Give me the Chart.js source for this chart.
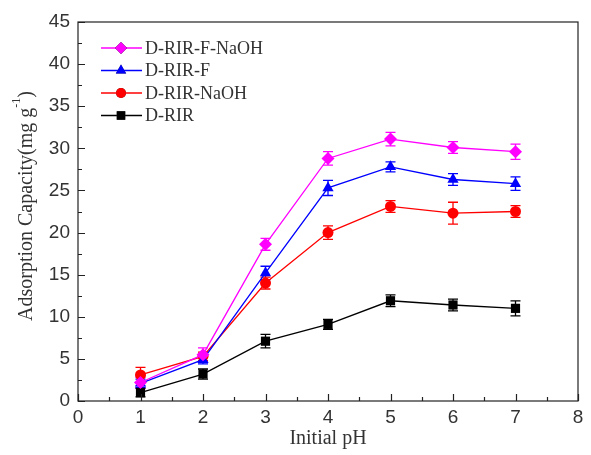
<!DOCTYPE html>
<html>
<head>
<meta charset="utf-8">
<script src="https://cdn.jsdelivr.net/npm/chart.js@4"></script>
<style>
  html,body{margin:0;padding:0;background:#fff;}
  #wrap{width:591px;height:455px;}
</style>
</head>
<body>
<div id="wrap"><canvas id="c"></canvas></div>
<script>
const phValues = [1, 2, 3, 4, 5, 6, 7];

const seriesNames = ["D-RIR-F-NaOH", "D-RIR-F", "D-RIR-NaOH", "D-RIR"];
const seriesColors = ["#ff00ff", "#0000ff", "#ff0000", "#000000"];
const seriesShapes = ["rectRot", "triangle", "circle", "rect"];

const valsFNaOH = [2.2, 5.5, 18.6, 28.8, 31.1, 30.1, 29.6];
const valsF     = [2.1, 4.9, 15.2, 25.3, 27.8, 26.3, 25.8];
const valsNaOH  = [3.1, 5.3, 14.0, 20.0, 23.1, 22.3, 22.5];
const valsRIR   = [1.0, 3.2, 7.1, 9.1, 11.9, 11.4, 11.0];

const errFNaOH = [0.6, 0.8, 0.7, 0.8, 0.8, 0.7, 0.9];
const errF     = [0.5, 0.5, 0.8, 0.9, 0.6, 0.7, 0.8];
const errNaOH  = [0.9, 0.5, 0.7, 0.8, 0.7, 1.3, 0.7];
const errRIR   = [0.5, 0.6, 0.8, 0.6, 0.7, 0.7, 0.9];

const xTicks = [0, 1, 2, 3, 4, 5, 6, 7, 8];
const yTicks = [0, 5, 10, 15, 20, 25, 30, 35, 40, 45];

const allVals = [valsFNaOH, valsF, valsNaOH, valsRIR];
const allErrs = [errFNaOH, errF, errNaOH, errRIR];

const datasets = seriesNames.map((name, i) => ({
    label: name,
    data: phValues.map((x, j) => ({x: x, y: allVals[i][j]})),
    errs: allErrs[i],
    borderColor: seriesColors[i],
    backgroundColor: seriesColors[i],
    borderWidth: 1.3,
    pointStyle: seriesShapes[i],
    pointRadius: [6.5, 6.5, 5.5, 6.5][i],
    pointBorderWidth: 0,
    tension: 0
}));

// error bars, frame, inward ticks, legend, y title
const extras = {
    id: "extras",
    beforeDatasetsDraw(chart) {
        const ctx = chart.ctx, xs = chart.scales.x, ys = chart.scales.y;
        ctx.save();
        chart.data.datasets.forEach(ds => {
            ctx.strokeStyle = ds.borderColor;
            ctx.lineWidth = 1.3;
            ds.data.forEach((p, j) => {
                const px = xs.getPixelForValue(p.x);
                const y1 = ys.getPixelForValue(p.y - ds.errs[j]);
                const y2 = ys.getPixelForValue(p.y + ds.errs[j]);
                ctx.beginPath();
                ctx.moveTo(px, y1); ctx.lineTo(px, y2);
                ctx.moveTo(px - 5, y1); ctx.lineTo(px + 5, y1);
                ctx.moveTo(px - 5, y2); ctx.lineTo(px + 5, y2);
                ctx.stroke();
            });
        });
        ctx.restore();
    },
    afterDraw(chart) {
        const ctx = chart.ctx, a = chart.chartArea, xs = chart.scales.x, ys = chart.scales.y;
        ctx.save();
        ctx.strokeStyle = "#222";
        ctx.lineWidth = 1.2;
        ctx.strokeRect(a.left, a.top, a.right - a.left, a.bottom - a.top);
        ctx.beginPath();
        for (let v = 0; v <= 8; v += 0.5) {
            const px = Math.round(xs.getPixelForValue(v)) + 0.5;
            const len = Number.isInteger(v) ? 7 : 4;
            ctx.moveTo(px, a.bottom); ctx.lineTo(px, a.bottom - len);
        }
        for (let v = 0; v <= 45; v += 2.5) {
            const py = Math.round(ys.getPixelForValue(v)) + 0.5;
            const len = v % 5 === 0 ? 7 : 4;
            ctx.moveTo(a.left, py); ctx.lineTo(a.left + len, py);
        }
        ctx.stroke();

        // legend
        ctx.font = "18px 'Liberation Serif'";
        ctx.textBaseline = "middle";
        chart.data.datasets.forEach((ds, i) => {
            const y = 48 + i * 22.5;
            ctx.strokeStyle = ds.borderColor;
            ctx.lineWidth = 1.3;
            ctx.beginPath(); ctx.moveTo(101, y); ctx.lineTo(142, y); ctx.stroke();
            Chart.helpers.drawPoint(ctx, {pointStyle: ds.pointStyle, radius: ds.pointRadius - 0.5, borderWidth: 0, rotation: 0}, 121, y);
            ctx.fillStyle = ds.backgroundColor;
            ctx.fill();
            ctx.fillStyle = "#333";
            ctx.fillText(ds.label, 145, y + 1);
        });

        // y title with superscript
        ctx.translate(27, 206);
        ctx.rotate(-Math.PI / 2);
        ctx.fillStyle = "#333";
        ctx.font = "20px 'Liberation Serif'";
        const t1 = "Adsorption Capacity(mg g";
        const sup = "-1";
        const t3 = ")";
        const w1 = ctx.measureText(t1).width;
        ctx.font = "12px 'Liberation Serif'";
        const w2 = ctx.measureText(sup).width;
        ctx.font = "20px 'Liberation Serif'";
        const w3 = ctx.measureText(t3).width;
        let sx = -(w1 + w2 + w3) / 2;
        ctx.textAlign = "left";
        ctx.textBaseline = "middle";
        ctx.fillText(t1, sx, 0);
        ctx.font = "12px 'Liberation Serif'";
        ctx.fillText(sup, sx + w1, -10);
        ctx.font = "20px 'Liberation Serif'";
        ctx.fillText(t3, sx + w1 + w2, 0);
        ctx.restore();
    }
};

new Chart(document.getElementById("c"), {
    type: "line",
    data: { datasets: datasets },
    options: {
        responsive: true,
        maintainAspectRatio: false,
        animation: false,
        layout: { padding: { top: 22, right: 13, left: 0, bottom: 0 } },
        plugins: { legend: { display: false }, tooltip: { enabled: false } },
        scales: {
            x: {
                type: "linear",
                min: 0, max: 8,
                afterBuildTicks: s => { s.ticks = xTicks.map(v => ({value: v})); },
                afterFit: s => { s.height = 54; },
                grid: { display: false, drawTicks: false },
                border: { display: false },
                ticks: { padding: 5, color: "#333", font: { family: "'Liberation Sans'", size: 19 } },
                title: { display: true, text: "Initial pH", color: "#333", padding: { top: 0 },
                         font: { family: "'Liberation Serif'", size: 20 } }
            },
            y: {
                min: 0, max: 45,
                afterBuildTicks: s => { s.ticks = yTicks.map(v => ({value: v})); },
                afterFit: s => { s.width = 78; },
                grid: { display: false, drawTicks: false },
                border: { display: false },
                ticks: { padding: 8, color: "#333", font: { family: "'Liberation Sans'", size: 19 } }
            }
        }
    },
    plugins: [extras]
});
</script>
</body>
</html>
